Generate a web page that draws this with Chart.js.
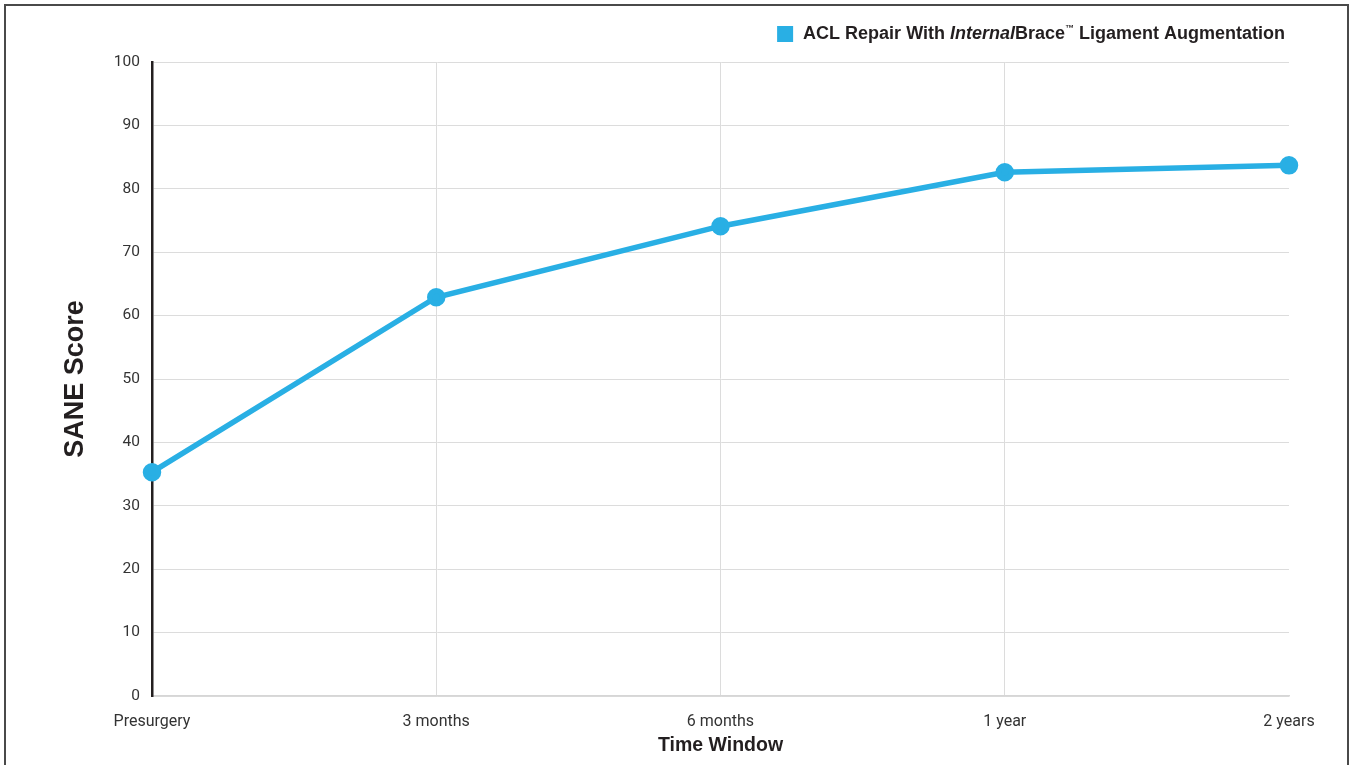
<!DOCTYPE html>
<html>
<head>
<meta charset="utf-8">
<script src="https://cdn.jsdelivr.net/npm/chart.js@4.4.1/dist/chart.umd.min.js"></script>
<style>
  html, body { margin: 0; padding: 0; background: #fff; }
  #wrap { position: relative; width: 1351px; height: 765px; overflow: hidden; }
  #frame { position: absolute; left: 4px; top: 4px; width: 1341px; height: 800px;
           border: 2px solid #4a4a4a; pointer-events: none; }
</style>
</head>
<body>
<div id="wrap">
  <canvas id="chart-sane" width="1351" height="765"></canvas>
  <div id="frame"></div>
</div>
<script>
// SANE score over time

let timeLabels = ['Presurgery', '3 months', '6 months', '1 year', '2 years']
let saneScores = [35.3, 62.9, 74.1, 82.6, 83.7]
let seriesName = 'ACL Repair With InternalBrace\u2122 Ligament Augmentation'
let blue = '#29afe4'

// legend drawn by hand so "Internal" can be italic
let legendPlugin = {
	id: 'mixedLegend',
	afterDraw(chart) {
		let ctx = chart.ctx
		let parts = [
			{ t: 'ACL Repair With ', f: 'bold 18px "Liberation Sans"' },
			{ t: 'Internal', f: 'italic bold 18px "Liberation Sans"' },
			{ t: 'Brace', f: 'bold 18px "Liberation Sans"' },
			{ t: '\u2122', f: 'bold 9px "Liberation Sans"', up: 5 },
			{ t: ' Ligament Augmentation', f: 'bold 18px "Liberation Sans"' },
		]
		ctx.save()
		let total = 0
		parts.forEach(p => { ctx.font = p.f; p.w = ctx.measureText(p.t).width; total += p.w })
		let right = 1285, y = 34
		let x = right - total
		ctx.fillStyle = chart.data.datasets[0].borderColor
		ctx.fillRect(x - 26, y - 8, 16, 16)
		ctx.fillStyle = '#231f20'
		ctx.textBaseline = 'middle'
		parts.forEach(p => {
			ctx.font = p.f
			ctx.fillText(p.t, x, y - (p.up || 0))
			x += p.w
		})
		ctx.restore()
	}
}

var saneChart = new Chart(document.getElementById('chart-sane'), {
	type: 'line',
	data: {
		labels: timeLabels,
		datasets: [
			{
				label: seriesName,
				data: saneScores,
				borderColor: blue,
				backgroundColor: blue,
				borderWidth: 5.5,
				pointRadius: 6.5,
				pointHoverRadius: 6.5,
				tension: 0,
			}
		]
	},
	options: {
		responsive: false,
		animation: false,
		layout: { padding: { left: 0, right: 62, top: 62, bottom: 0 } },
		plugins: {
			legend: { display: false },
			tooltip: { enabled: false },
		},
		scales: {
			x: {
				offset: false,
				grid: {
					color: ctx => ctx.index === 4 ? 'rgba(0,0,0,0)' : '#dcdcdc',
					lineWidth: 1,
					drawTicks: false,
				},
				border: { color: '#d6d6d6', width: 1.5 },
				ticks: { color: '#333', padding: 16, font: { family: 'Roboto', size: 16 }, maxRotation: 0 },
				title: {
					display: true,
					text: 'Time Window',
					color: '#231f20',
					font: { family: 'Liberation Sans', size: 19.5, weight: 'bold' },
					padding: { top: 0, bottom: 8 },
				},
				afterFit: scale => { scale.height = 69 },
			},
			y: {
				min: 0,
				max: 100,
				ticks: { stepSize: 10, color: '#333', padding: 12, font: { family: 'Roboto', size: 15.5 } },
				grid: { color: '#dcdcdc', lineWidth: 1, drawTicks: false },
				border: { color: '#231f20', width: 2.5 },
				title: {
					display: true,
					text: 'SANE Score',
					color: '#231f20',
					font: { family: 'Liberation Sans', size: 27, weight: 'bold' },
					padding: { top: 59, bottom: 0 },
				},
				afterFit: scale => { scale.width = 152 },
			}
		}
	},
	plugins: [legendPlugin]
});
</script>
</body>
</html>
